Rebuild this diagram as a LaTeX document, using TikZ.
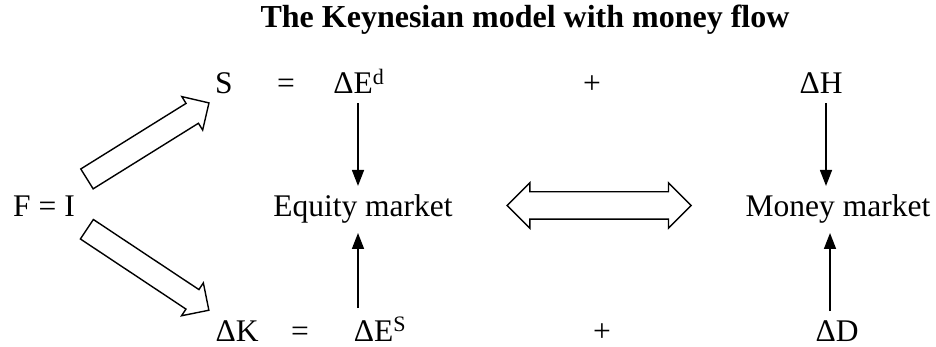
\documentclass[tikz,border=0pt]{standalone}
\usepackage{fontspec}
\setmainfont{Liberation Serif}
\usetikzlibrary{arrows.meta,shapes.arrows,calc}
\tikzset{
  lbl/.style={font=\fontsize{31.5}{38}\selectfont, inner sep=9pt, anchor=base},
  thin arrow/.style={line width=1.6pt, -{Triangle[length=16pt,width=12pt]}},
  fat arrow/.style={single arrow, draw, fill=white, line width=1.4pt, inner xsep=0pt,
    inner ysep=11pt, single arrow head extend=8pt, minimum width=0pt},
  fat double/.style={double arrow, draw, fill=white, line width=1.4pt, inner xsep=0pt,
    inner ysep=13pt, double arrow head extend=9pt, minimum width=0pt},
}
\begin{document}
\begin{tikzpicture}[x=1pt,y=-1pt]
  \useasboundingbox (0,0) rectangle (936,347);
  % title
  \node[lbl, font=\bfseries\fontsize{32}{38}\selectfont] (title) at (525,28) {The Keynesian model with money flow};
  % top row
  \node[lbl] (S) at (224,94) {S};
  \node[lbl] (eqA) at (286,94) {=};
  \node[lbl] (dEd) at (359,94) {ΔE\textsuperscript{d}};
  \node[lbl] (plusA) at (592,94) {+};
  \node[lbl] (dH) at (821,94) {ΔH};
  % middle row
  \node[lbl] (fi) at (44,217) {F = I};
  \node[lbl] (eqm) at (363,217) {Equity market};
  \node[lbl] (mm) at (838,217) {Money market};
  % bottom row
  \node[lbl] (dK) at (237,341) {ΔK};
  \node[lbl] (eqB) at (300,341) {=};
  \node[lbl] (dES) at (380,341) {ΔE\textsuperscript{S}};
  \node[lbl] (plusB) at (602,341) {+};
  \node[lbl] (dD) at (837,341) {ΔD};
  % thin arrows into the markets
  \draw[thin arrow] ([xshift=-5pt]dEd.south -| eqm.north) -- ([xshift=-5pt]eqm.north);
  \draw[thin arrow] ([xshift=-5pt]dES.north -| eqm.south) -- ([xshift=-5pt]eqm.south);
  \draw[thin arrow] ([xshift=5pt]dH.south) -- ([xshift=5pt]dH.south |- mm.north);
  \draw[thin arrow] ([xshift=-7pt]dD.north) -- ([xshift=-7pt]dD.north |- mm.south);
  % fat arrows out of F = I
  \coordinate (upTail) at (82,182);
  \coordinate (upTip) at (204,106);
  \coordinate (lowTail) at (82,226);
  \coordinate (lowTip) at (204,307);
  \path let \p1=(upTail), \p2=(upTip), \n1={atan2(\y2-\y1,\x2-\x1)}, \n2={veclen(\x2-\x1,\y2-\y1)} in
    node[fat arrow, rotate=\n1, minimum height=\n2] (upArrow) at ($(upTail)!0.5!(upTip)$) {};
  \path let \p1=(lowTail), \p2=(lowTip), \n1={atan2(\y2-\y1,\x2-\x1)}, \n2={veclen(\x2-\x1,\y2-\y1)} in
    node[fat arrow, rotate=\n1, minimum height=\n2] (lowArrow) at ($(lowTail)!0.5!(lowTip)$) {};
  % double arrow between the markets
  \node[fat double, minimum height=184pt] (link) at ($(eqm.east)!0.5!(mm.west)+(0,-4)$) {};
\end{tikzpicture}
\end{document}
